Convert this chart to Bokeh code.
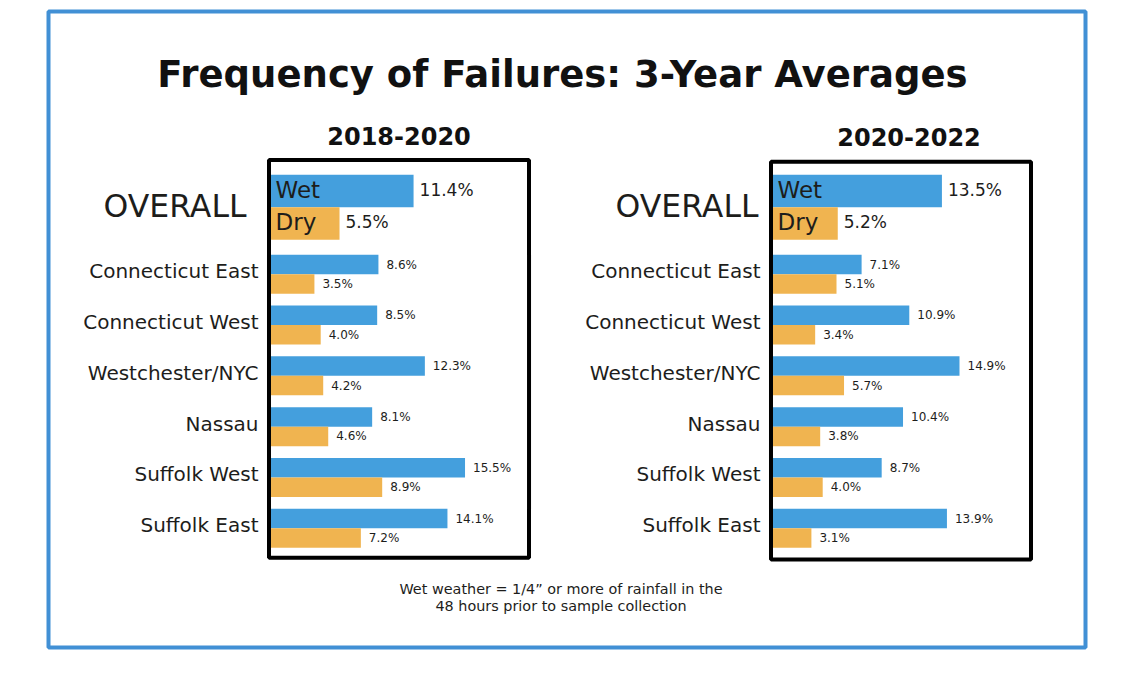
from bokeh.plotting import figure
from bokeh.models import Range1d
from bokeh.core.properties import value
from bokeh.embed import file_html
from bokeh.resources import INLINE

# ---------------- data ----------------
title = "Frequency of Failures: 3-Year Averages"
periods = ["2018-2020", "2020-2022"]
regions = ["Connecticut East", "Connecticut West", "Westchester/NYC",
           "Nassau", "Suffolk West", "Suffolk East"]
overall_wet = [11.4, 13.5]
overall_dry = [5.5, 5.2]
wet_2018_2020 = [8.6, 8.5, 12.3, 8.1, 15.5, 14.1]
dry_2018_2020 = [3.5, 4.0, 4.2, 4.6, 8.9, 7.2]
wet_2020_2022 = [7.1, 10.9, 14.9, 10.4, 8.7, 13.9]
dry_2020_2022 = [5.1, 3.4, 5.7, 3.8, 4.0, 3.1]
note = ["Wet weather = 1/4\u201d or more of rainfall in the",
        "48 hours prior to sample collection"]

wet_by_period = [wet_2018_2020, wet_2020_2022]
dry_by_period = [dry_2018_2020, dry_2020_2022]

# ---------------- layout / style ----------------
FONT = value("DejaVu Sans")
TXT = "#1d1d1b"
BLUE = "#449fdd"
ORANGE = "#f0b450"
FRAME_W, FRAME_H = 1037, 636
K = 12.55                       # px per percentage point
XS = -222 / K
XE = XS + FRAME_W / K
panel_offset = [0.0, 502 / K]
box_x = (-0.12, 20.6)
box_top = [148.5, 150.3]
box_bottom = [546.3, 548.0]
panel_title_y = [124.6, 125.0]
panel_title_dx = [0, 8]
overall_gap = [-24, -14]

OV_WET_Y, OV_DRY_Y, OV_H = 179.5, 212.0, 32.5
REG_Y0, REG_PITCH, REG_H = 253.0, 50.8, 19.5


def fx(frame_px):
    return XS + frame_px / K


p = figure(width=1118, height=658, x_range=Range1d(XS, XE),
           y_range=Range1d(FRAME_H, 0), output_backend="svg",
           toolbar_location=None, x_axis_location=None, y_axis_location=None,
           min_border_left=48, min_border_right=33, min_border_top=11,
           min_border_bottom=11)
p.grid.visible = False
p.outline_line_color = "#4190d5"
p.outline_line_width = 4
p.background_fill_color = "white"
p.border_fill_color = "white"

# title
p.text(x=[fx(514)], y=[62.8], text=[title], text_align="center",
       text_baseline="middle", text_font=FONT, text_font_style="bold",
       text_font_size=value("37px"), text_color="#111111")

for j in range(2):
    off = panel_offset[j]
    wet = wet_by_period[j]
    dry = dry_by_period[j]
    n = len(regions)
    wet_y = [REG_Y0 + REG_PITCH * i for i in range(n)]
    dry_y = [y + REG_H for y in wet_y]

    # region bars
    p.hbar(y=wet_y, left=off, right=[off + v for v in wet], height=REG_H,
           fill_color=BLUE, line_color=None)
    p.hbar(y=dry_y, left=off, right=[off + v for v in dry], height=REG_H,
           fill_color=ORANGE, line_color=None)
    # overall bars
    p.hbar(y=[OV_WET_Y], left=off, right=[off + overall_wet[j]], height=OV_H,
           fill_color=BLUE, line_color=None)
    p.hbar(y=[OV_DRY_Y], left=off, right=[off + overall_dry[j]], height=OV_H,
           fill_color=ORANGE, line_color=None)

    # box
    p.quad(left=[off + box_x[0]], right=[off + box_x[1]], top=[box_top[j]],
           bottom=[box_bottom[j]], fill_color=None, line_color="black",
           line_width=4)

    # panel title
    p.text(x=[off + (box_x[0] + box_x[1]) / 2], y=[panel_title_y[j]],
           text=[periods[j]], x_offset=panel_title_dx[j], text_align="center",
           text_baseline="middle", text_font=FONT, text_font_style="bold",
           text_font_size=value("24px"), text_color="#111111")

    # region labels
    p.text(x=off, y=[y + REG_H / 2 - 3 for y in wet_y], text=regions,
           x_offset=-12, text_align="right", text_baseline="middle",
           text_font=FONT, text_font_size=value("20px"), text_color=TXT)
    # OVERALL label
    p.text(x=[off], y=[(OV_WET_Y + OV_DRY_Y) / 2 - 1.75], text=["OVERALL"],
           x_offset=overall_gap[j], text_align="right",
           text_baseline="middle", text_font=FONT,
           text_font_size=value("31.5px"), text_color=TXT)

    # Wet / Dry inside overall bars
    p.text(x=[off, off], y=[OV_WET_Y - 1.5, OV_DRY_Y - 1.5],
           text=["Wet", "Dry"], x_offset=5, text_align="left",
           text_baseline="middle", text_font=FONT,
           text_font_size=value("23px"), text_color=TXT)

    # overall value labels
    p.text(x=[off + overall_wet[j], off + overall_dry[j]],
           y=[OV_WET_Y - 1.5, OV_DRY_Y - 1.5],
           text=[f"{overall_wet[j]:.1f}%", f"{overall_dry[j]:.1f}%"],
           x_offset=6, text_align="left", text_baseline="middle",
           text_font=FONT, text_font_size=value("17px"), text_color=TXT)

    # region value labels
    p.text(x=[off + v for v in wet] + [off + v for v in dry],
           y=wet_y + dry_y,
           text=[f"{v:.1f}%" for v in wet] + [f"{v:.1f}%" for v in dry],
           x_offset=8, text_align="left", text_baseline="middle",
           text_font=FONT, text_font_size=value("12px"), text_color=TXT)

# footnote
p.text(x=[fx(512.5), fx(512.5)], y=[577.0, 594.0], text=note,
       text_align="center", text_baseline="middle", text_font=FONT,
       text_font_size=value("14.4px"), text_color=TXT)

open("out.html", "w").write(file_html(p, INLINE))
